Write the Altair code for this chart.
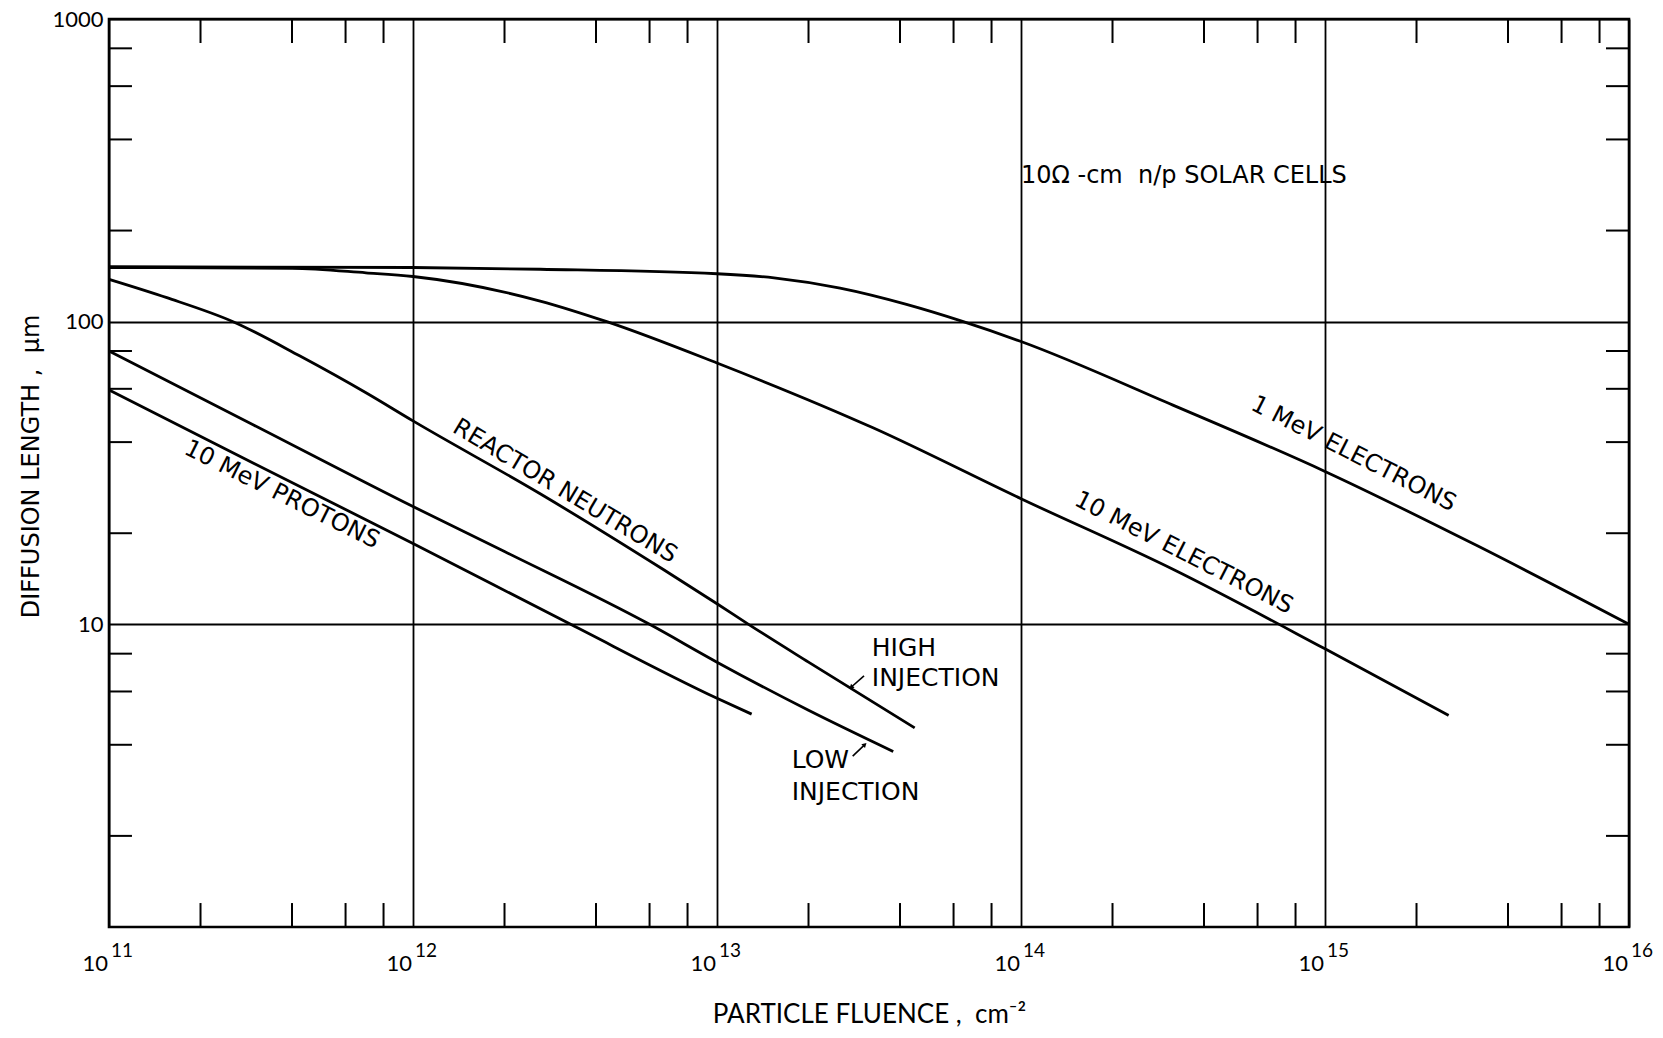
import altair as alt
import pandas as pd

# ---------------- data ----------------
# fluence (cm^-2) and diffusion length (um)
protons_F = [1e11, 3e11, 1e12, 3.3e12, 1e13, 1.3e13]
protons_L = [59.5, 34, 18.5, 10, 5.7, 5.05]

low_F = [1e11, 3e11, 1e12, 2e12, 6e12, 1e13, 2e13, 3.8e13]
low_L = [80, 45.5, 24.5, 17.4, 10, 7.5, 5.2, 3.8]

high_F = [1e11, 1.55e11, 2.56e11, 4.25e11, 7.05e11, 1e12, 2.62e12, 6.64e12, 1e13, 1.27e13, 2e13, 4.47e13]
high_L = [138, 120, 100, 77, 58, 47, 27, 15.2, 11.7, 10, 7.5, 4.55]

e10_F = [1e11, 4e11, 7e11, 1e12, 2.62e12, 4.34e12, 1e13, 3.26e13, 1e14, 3.16e14, 1e15, 2.55e15]
e10_L = [151, 150, 145, 141, 117, 100, 73, 44.6, 26, 15.2, 8.3, 5.0]

e1_F = [1e11, 1e12, 2.62e12, 1e13, 1.54e13, 2.54e13, 4.2e13, 6.46e13, 1e14, 3.16e14, 1e15, 3.16e15, 1e16]
e1_L = [152, 151, 149, 144, 139.5, 129, 114, 100, 86, 53, 32, 18.2, 10]

# curve labels
label_text = ["1 MeV ELECTRONS", "10 MeV ELECTRONS", "REACTOR NEUTRONS", "10 MeV PROTONS"]
label_F = [1.24e15, 3.43e14, 3.16e12, 3.7e11]
label_L = [36.5, 17.2, 27.5, 26.8]
label_angle = [27, 27, 31, 26.5]

# injection notes
note_text = ["HIGH", "INJECTION", "LOW", "INJECTION"]
note_F = [3.23e13, 3.23e13, 1.76e13, 1.76e13]
note_L = [8.33, 6.66, 3.56, 2.79]

# arrows (tail -> tip)
arrow_F = [3.045e13, 2.795e13]
arrow_L = [6.76, 3.67]
arrow_F2 = [2.773e13, 3.051e13]
arrow_L2 = [6.22, 3.99]
arrow_head_angle = [228, 46]

cell_text = ["10\u03a9 -cm\u00a0\u00a0n/p SOLAR CELLS"]
cell_F = [1e14]
cell_L = [303]

# axes
x_major = [1e11, 1e12, 1e13, 1e14, 1e15, 1e16]
x_exp = ["11", "12", "13", "14", "15", "16"]
y_major = [10, 100, 1000]
minor_mult = [2, 4, 6, 8]
x_decades = [1e11, 1e12, 1e13, 1e14, 1e15]
y_decades = [1, 10, 100]

NUMFONT = "Lato"
TXTFONT = "DejaVu Sans"
W, H = 1520, 908

xs = alt.Scale(type="log", domain=[1e11, 1e16], nice=False)
ys = alt.Scale(type="log", domain=[1, 1000], nice=False)

xaxis = alt.Axis(
    values=x_major, grid=True, labels=False, ticks=False, domain=False,
    title="PARTICLE FLUENCE ,\u00a0\u00a0cm\u207b\u00b2", titleFont=NUMFONT, titleFontSize=26,
    titleFontWeight="normal", titleColor="black", titleBaseline="alphabetic",
    titleAlign="center", titleX=760, titleY=95)
yaxis = alt.Axis(
    values=y_major, grid=True, ticks=False, domain=False, format="d",
    labelFont=NUMFONT, labelFontSize=22, labelColor="black", labelPadding=6,
    title="DIFFUSION LENGTH ,\u00a0\u00a0\u03bcm", titleFont=TXTFONT, titleFontSize=24,
    titleFontWeight="normal", titleColor="black", titleAngle=270,
    titleBaseline="alphabetic", titleAlign="center", titleX=-71, titleY=447)


def X(field):
    return alt.X(field, scale=xs, axis=xaxis, title=xaxis.title)


def Y(field):
    return alt.Y(field, scale=ys, axis=yaxis, title=yaxis.title)


rows = []
for name, F, L in [("protons", protons_F, protons_L), ("low", low_F, low_L),
                   ("high", high_F, high_L), ("e10", e10_F, e10_L), ("e1", e1_F, e1_L)]:
    for f, l in zip(F, L):
        rows.append({"curve": name, "F": f, "L": l})
curves = pd.DataFrame(rows)

lines = alt.Chart(curves).mark_line(color="black", strokeWidth=2.8, interpolate="monotone").encode(
    x=X("F:Q"), y=Y("L:Q"), detail="curve:N")

# minor ticks
xm = [m * d for d in x_decades for m in minor_mult]
ym = [m * d for d in y_decades for m in minor_mult]
tick_rows = []
for v in xm:
    tick_rows.append({"F": v, "F2": v, "L": 1, "L2": 1.2})
    tick_rows.append({"F": v, "F2": v, "L": 833, "L2": 1000})
for v in ym:
    tick_rows.append({"F": 1e11, "F2": 1.19e11, "L": v, "L2": v})
    tick_rows.append({"F": 8.4e15, "F2": 1e16, "L": v, "L2": v})
ticks = alt.Chart(pd.DataFrame(tick_rows)).mark_rule(color="black", strokeWidth=2).encode(
    x=X("F:Q"), x2="F2:Q", y=Y("L:Q"), y2="L2:Q")

# x tick labels 10^n
xl = pd.DataFrame({"F": x_major, "exp": x_exp, "base": ["10"] * 6, "L": [1] * 6})
xbase = alt.Chart(xl).mark_text(font=NUMFONT, fontSize=22, align="right", baseline="alphabetic",
                                dx=-1, dy=44, color="black").encode(
    x=X("F:Q"), y=Y("L:Q"), text="base:N")
xexp = alt.Chart(xl).mark_text(font=NUMFONT, fontSize=19, align="left", baseline="alphabetic",
                               dx=2, dy=30, color="black").encode(
    x=X("F:Q"), y=Y("L:Q"), text="exp:N")

# curve labels
lab = pd.DataFrame({"t": label_text, "F": label_F, "L": label_L, "a": label_angle})
labels = alt.Chart(lab).mark_text(font=TXTFONT, fontSize=24, align="center", baseline="middle",
                                  color="black").encode(
    x=X("F:Q"), y=Y("L:Q"), text="t:N", angle=alt.Angle("a:Q", scale=None))

notes = alt.Chart(pd.DataFrame({"t": note_text, "F": note_F, "L": note_L})).mark_text(
    font=TXTFONT, fontSize=25, align="left", baseline="middle", color="black").encode(
    x=X("F:Q"), y=Y("L:Q"), text="t:N")

cells = alt.Chart(pd.DataFrame({"t": cell_text, "F": cell_F, "L": cell_L})).mark_text(
    font=TXTFONT, fontSize=24, align="left", baseline="middle", color="black").encode(
    x=X("F:Q"), y=Y("L:Q"), text="t:N")

adf = pd.DataFrame({"F": arrow_F, "L": arrow_L, "F2": arrow_F2, "L2": arrow_L2, "a": arrow_head_angle})
arrows = alt.Chart(adf).mark_rule(color="black", strokeWidth=1.6).encode(
    x=X("F:Q"), x2="F2:Q", y=Y("L:Q"), y2="L2:Q")
heads = alt.Chart(adf).mark_point(shape="triangle", filled=True, color="black", size=28, opacity=1).encode(
    x=X("F2:Q"), y=Y("L2:Q"), angle=alt.Angle("a:Q", scale=None))

chart = alt.layer(lines, ticks, xbase, xexp, labels, notes, cells, arrows, heads).properties(
    width=W, height=H,
    autosize=alt.AutoSizeParams(type="none"),
    padding={"left": 101, "top": 11, "right": 26, "bottom": 100},
    background="white",
).configure_view(stroke="black", strokeWidth=2.6).configure_axis(
    gridColor="black", gridWidth=1.8, gridOpacity=1)

chart.save("out.html", embed_options={"renderer": "svg", "actions": False})
